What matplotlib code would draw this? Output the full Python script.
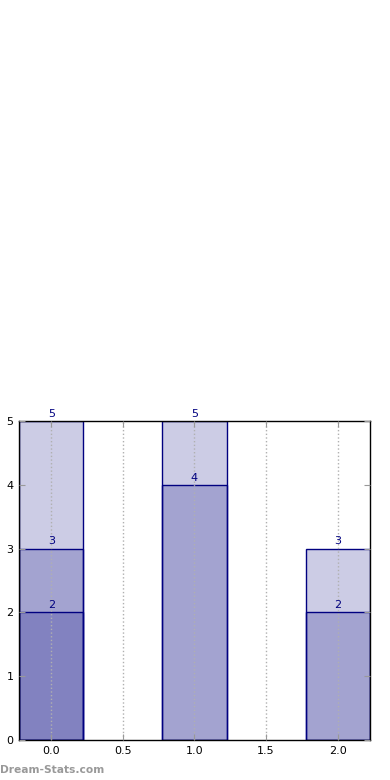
import matplotlib
matplotlib.use("Agg")
import matplotlib.pyplot as plt

positions = [0, 1, 2]
xtick_values = [0.0, 0.5, 1.0, 1.5, 2.0]
ytick_values = [0, 1, 2, 3, 4, 5]
# overlapping bars drawn at each position
heights = [[5, 3, 2], [5, 4], [3, 2]]

bar_width = 0.45

fig = plt.figure(figsize=(3.9, 7.8), dpi=100)
ax = fig.add_axes([0.0487, 0.0513, 0.9, 0.4090])

for pos, stack in zip(positions, heights):
    for h in stack:
        ax.bar(pos, h, width=bar_width, facecolor=(0, 0, 0.5, 0.2),
               edgecolor="navy", linewidth=1)
        ax.annotate(str(h), (pos, h), xytext=(0, 1.5), textcoords="offset points",
                    ha="center", va="bottom", color="navy", fontsize=8)

ax.set_xlim(-bar_width / 2, 2 + bar_width / 2)
ax.set_ylim(0, 5)
ax.set_xticks(xtick_values)
ax.set_xticklabels(["%.1f" % v for v in xtick_values])
ax.set_yticks(ytick_values)
ax.tick_params(direction="in", top=True, right=True, labelsize=8, length=4,
               color="#999999", pad=4)
ax.grid(axis="x", color="#b0b0b0", linestyle=":", linewidth=1)
ax.set_axisbelow(False)
for sp in ax.spines.values():
    sp.set_linewidth(1)

fig.text(0.0, 0.0128, "Dream-Stats.com", color="#999999", fontsize=7.7,
         fontweight="bold", ha="left", va="center")

fig.savefig("out.png", dpi=100)
